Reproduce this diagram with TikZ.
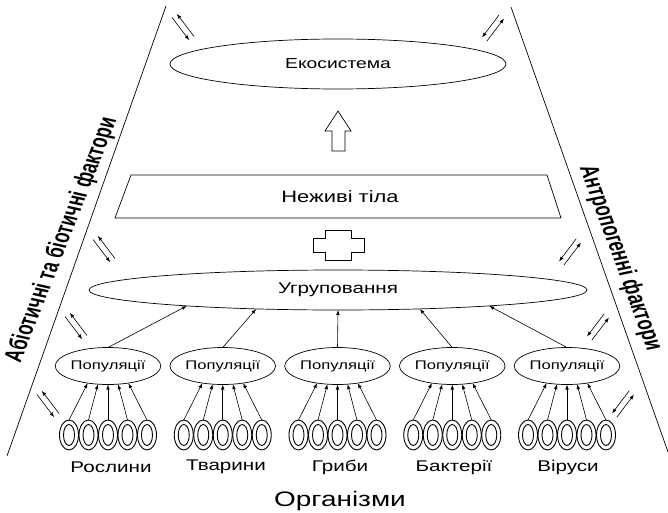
\documentclass[tikz,border=0pt]{standalone}
\usepackage{fontspec}
\setmainfont{Liberation Sans}
\usepackage{graphicx}
\usetikzlibrary{shapes.geometric,arrows.meta,calc}
\newcommand{\stt}[1]{\scalebox{1.33}[1]{#1}}
\newcommand{\fs}[1]{\fontsize{#1}{#1}\selectfont}
\begin{document}
\begin{tikzpicture}[x=1pt,y=-1pt,line width=0.7pt,
  ell/.style={ellipse,draw,inner sep=0pt,outer sep=0pt},
  arr/.style={-{Latex[length=5pt,width=3.6pt]},line width=0.6pt},
  pairL/.pic={
    \coordinate (-a1) at (11,9.5);   \coordinate (-b1) at (-6.2,-13.2);
    \coordinate (-a2) at (-11,-9.5); \coordinate (-b2) at (6.2,13.2);
    \draw[arr] (-a1) -- (-b1);
    \draw[arr] (-a2) -- (-b2);
  },
  pairR/.pic={
    \coordinate (-a1) at (6.2,-13.2); \coordinate (-b1) at (-11,9.5);
    \coordinate (-a2) at (-6.2,13.2); \coordinate (-b2) at (11,-9.5);
    \draw[arr] (-a1) -- (-b1);
    \draw[arr] (-a2) -- (-b2);
  }]
\useasboundingbox (0,0) rectangle (668,513);

% side lines
\coordinate (lt) at (166,6);  \coordinate (lb) at (7,456);
\coordinate (rt) at (511,7);  \coordinate (rb) at (668,452);
\draw (lt) -- (lb);
\draw (rt) -- (rb);

% side labels
\node[font=\bfseries\fs{17},xscale=1.33,rotate=73.4,yscale=1.15,inner sep=1pt] (abio) at (62,240) {Абіотичні та біотичні фактори};
\node[font=\bfseries\fs{17},xscale=1.33,rotate=-74.5,yscale=1.15,inner sep=1pt] (antr) at (620,258) {Антропогенні фактори};

% ecosystem
\node[ell,minimum width=336pt,minimum height=50pt,font=\fs{14.5}] (eco) at (338,64) {\stt{Екосистема}};

% up arrow
\draw (338,111) -- (351,131) -- (345,131) -- (345,151) -- (332,151) -- (332,131) -- (325,131) -- cycle;

% dead matter
\draw (131,175) -- (547,175) -- (561,218) -- (115,218) -- cycle;
\node[font=\fs{16.5}] (nez) at (340,197) {\stt{Неживі тіла}};

% plus
\draw (325,230) -- (351,230) -- (351,238) -- (364,238) -- (364,252) -- (351,252)
  -- (351,260) -- (325,260) -- (325,252) -- (313,252) -- (313,238) -- (325,238) -- cycle;

% community
\node[ell,minimum width=498pt,minimum height=40pt,font=\fs{15.5}] (ugr) at (338,290) {\stt{Угруповання}};

% populations
\foreach \i/\x in {1/108,2/222.75,3/337.5,4/452.25,5/567}{
  \node[ell,minimum width=92pt,minimum height=37pt,font=\fs{12.5}] (p\i) at (\x,366) {\stt{Популяції}};
  \foreach \j/\dx in {1/-39,2/-19.5,3/0,4/19.5,5/39}{
    \node[ell,line width=0.9pt,minimum width=19pt,minimum height=30pt] (o\i\j) at (\x+\dx,435) {};
    \node[ell,line width=0.9pt,minimum width=11pt,minimum height=21pt] (q\i\j) at (o\i\j.center) {};
  }
  \foreach \j/\a in {1/220,2/241,3/270,4/299,5/320}{
    \draw[arr] (o\i\j.north) -- (p\i.\a);
  }
}

\draw[arr] (p1.north) -- (ugr.186);
\draw[arr] (p2.north) -- (ugr.193);
\draw[arr] (p3.north) -- (ugr.270);
\draw[arr] (p4.north) -- (ugr.347);
\draw[arr] (p5.north) -- (ugr.354);

% exchange arrows
\pic (l1) at (183,27) {pairL};
\pic (l2) at (104,249) {pairL};
\pic (l3) at (76,326) {pairL};
\pic (l4) at (48,404) {pairL};
\pic (r1) at (493,28) {pairR};
\pic (r2) at (570,252) {pairR};
\pic (r3) at (598,327) {pairR};
\pic (r4) at (623,404) {pairR};

% labels
\node[font=\fs{15.5}] (ros) at (111,467) {\stt{Рослини}};
\node[font=\fs{15.5}] (tva) at (226,467) {\stt{Тварини}};
\node[font=\fs{15.5}] (gry) at (340,467) {\stt{Гриби}};
\node[font=\fs{15.5}] (bak) at (454,467) {\stt{Бактерії}};
\node[font=\fs{15.5}] (vir) at (568,467) {\stt{Віруси}};
\node[font=\fs{21}] (org) at (340,501) {\stt{Організми}};
\end{tikzpicture}
\end{document}
